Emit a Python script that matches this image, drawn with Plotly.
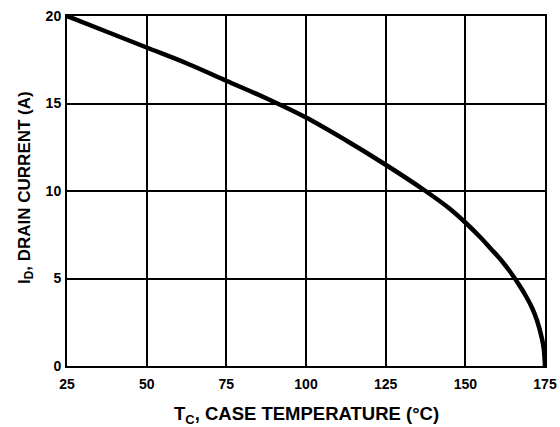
import plotly.graph_objects as go

temp_c = [25, 37.5, 50, 62.5, 75, 87.5, 100, 112.5, 125, 137.5, 145, 150, 155, 158, 161, 164, 167, 169, 171, 172.5, 174, 174.6, 175]
drain_a = [20, 19.1, 18.2, 17.3, 16.3, 15.3, 14.2, 12.9, 11.5, 10.0, 9.0, 8.2, 7.3, 6.7, 6.1, 5.4, 4.6, 4.0, 3.3, 2.6, 1.6, 1.0, 0]
x_ticks = [25, 50, 75, 100, 125, 150, 175]
y_ticks = [0, 5, 10, 15, 20]
x_title = "<b>T<sub>C</sub>, CASE TEMPERATURE (°C)</b>"
y_title = "<b>I<sub>D</sub>, DRAIN CURRENT (A)</b>"

font_family = "Liberation Sans, Arial, sans-serif"

fig = go.Figure()
fig.add_trace(go.Scatter(x=temp_c, y=drain_a, mode="lines", line_shape="spline",
                         line=dict(color="black", width=4.5), showlegend=False,
                         hoverinfo="skip"))

fig.update_layout(
    width=560, height=427,
    margin=dict(l=67, r=15, t=16, b=61),
    paper_bgcolor="white", plot_bgcolor="white",
    font=dict(family=font_family, color="black"),
)
fig.update_xaxes(
    range=[25, 175], tickvals=x_ticks, ticktext=[f"<b>{v}</b>" for v in x_ticks],
    showgrid=True, gridcolor="black", gridwidth=2,
    showline=True, linecolor="black", linewidth=2, mirror=True,
    zeroline=False, ticks="", tickfont=dict(size=14, family=font_family),
    automargin=False, ticklabelstandoff=4,
)
fig.update_yaxes(
    range=[0, 20], tickvals=y_ticks, ticktext=[f"<b>{v}</b>" for v in y_ticks],
    showgrid=True, gridcolor="black", gridwidth=2,
    showline=True, linecolor="black", linewidth=2, mirror=True,
    zeroline=False, ticks="", tickfont=dict(size=14, family=font_family),
    automargin=False, ticklabelstandoff=1,
)
fig.add_annotation(text=x_title, xref="paper", yref="paper", x=0.5, y=-0.14,
                   xanchor="center", yanchor="middle", showarrow=False,
                   font=dict(size=18.5, family=font_family, color="black"))
fig.add_annotation(text=y_title, xref="paper", yref="paper", x=-0.086, y=0.511,
                   xanchor="center", yanchor="middle", textangle=-90, showarrow=False,
                   font=dict(size=17, family=font_family, color="black"))

fig.write_html("out.html", config={"displayModeBar": False},
               post_script="document.body.style.margin='0';")
